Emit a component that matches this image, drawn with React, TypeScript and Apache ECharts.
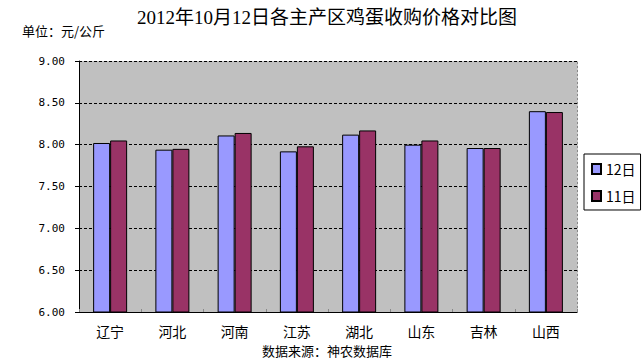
import React, { useEffect, useRef } from "react";
import * as echarts from "echarts";

const categories = ["辽宁", "河北", "河南", "江苏", "湖北", "山东", "吉林", "山西"];
const day12 = [8.02, 7.94, 8.11, 7.92, 8.12, 8.0, 7.96, 8.4];
const day11 = [8.05, 7.95, 8.14, 7.98, 8.17, 8.05, 7.96, 8.39];
const seriesNames = ["12日", "11日"];
const titleText = "2012年10月12日各主产区鸡蛋收购价格对比图";
const unitText = "单位：元/公斤";
const sourceText = "数据来源：神农数据库";
const yMin = 6;
const yMax = 9;
const yStep = 0.5;

const CJK = "'Noto Sans CJK SC', 'DejaVu Sans', sans-serif";

export default function App() {
  const ref = useRef<HTMLDivElement>(null);
  useEffect(() => {
    if (!ref.current) return;
    const chart = echarts.init(ref.current, undefined, { renderer: "svg" });
    chart.setOption({
      animation: false,
      backgroundColor: "#ffffff",
      grid: {
        left: 79,
        top: 61,
        right: 67,
        bottom: 51,
        show: true,
        backgroundColor: "#C0C0C0",
        borderWidth: 0,
      },
      legend: {
        orient: "vertical",
        left: 584,
        top: 154,
        padding: [8, 5, 7, 7],
        itemWidth: 9,
        itemHeight: 10,
        itemGap: 13,
        backgroundColor: "#ffffff",
        borderColor: "#000000",
        borderWidth: 1,
        borderRadius: 0,
        icon: "rect",
        textStyle: { fontFamily: CJK, fontSize: 14, color: "#000" },
        data: seriesNames,
      },
      xAxis: {
        type: "category",
        data: categories,
        axisLine: { lineStyle: { color: "#000", width: 1 } },
        axisTick: { show: true, inside: true, length: 3, lineStyle: { color: "#888" } },
        axisLabel: { fontFamily: CJK, fontSize: 14, color: "#000", margin: 12 },
      },
      yAxis: [
        {
          type: "value",
          min: yMin,
          max: yMax,
          interval: yStep,
          axisLine: { show: true, lineStyle: { color: "#000", width: 1 } },
          axisTick: { show: true, length: 4, lineStyle: { color: "#000" } },
          axisLabel: {
            fontFamily: "'DejaVu Sans Mono', monospace",
            fontSize: 11,
            color: "#000",
            margin: 14,
            formatter: (v: number) => v.toFixed(2),
          },
          splitLine: { show: true, lineStyle: { color: "#000", type: [3, 2], width: 1 } },
        },
        {
          type: "value",
          min: yMin,
          max: yMax,
          interval: yStep,
          position: "right",
          axisLine: { show: true, lineStyle: { color: "#888", type: [2, 2], width: 1 } },
          axisTick: { show: false },
          axisLabel: { show: false },
          splitLine: { show: false },
        },
      ],
      series: [
        {
          name: seriesNames[0],
          type: "bar",
          data: day12,
          barWidth: 17,
          barGap: "0%",
          itemStyle: { color: "#9999FF", borderColor: "#000", borderWidth: 1 },
        },
        {
          name: seriesNames[1],
          type: "bar",
          data: day11,
          barWidth: 17,
          barGap: "0%",
          itemStyle: { color: "#993366", borderColor: "#000", borderWidth: 1 },
        },
      ],
      graphic: [
        {
          type: "text",
          x: 327,
          y: 8,
          style: {
            text: titleText,
            fontFamily: "'Liberation Serif', 'Noto Sans CJK SC', serif",
            fontSize: 19,
            fill: "#000",
            align: "center",
            verticalAlign: "top",
          },
        },
        {
          type: "text",
          left: 22,
          top: 24,
          style: { text: unitText, fontFamily: CJK, fontSize: 13, fill: "#000" },
        },
        {
          type: "text",
          left: 262,
          top: 344,
          style: { text: sourceText, fontFamily: CJK, fontSize: 13, fill: "#000" },
        },
      ],
    });
    return () => chart.dispose();
  }, []);
  return (
    <div
      ref={ref}
      style={{ position: "absolute", left: 0, top: 0, width: 644, height: 363 }}
    />
  );
}
